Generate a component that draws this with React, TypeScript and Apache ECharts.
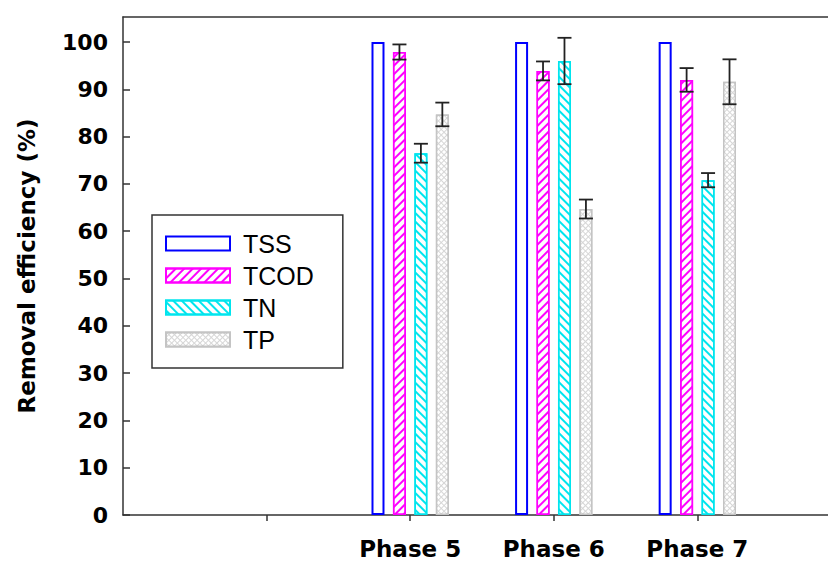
import React, { useEffect, useRef } from "react";
import * as echarts from "echarts";

// ---- data ----
const phaseNames = ["Phase 5", "Phase 6", "Phase 7"];
const phasePositions = [2, 3, 4];
const xTickPositions = [1, 2, 3, 4];
const seriesNames = ["TSS", "TCOD", "TN", "TP"];
const tssValues = [100, 100, 100];
const tcodValues = [97.9, 93.9, 92.0];
const tnValues = [76.5, 96.0, 70.8];
const tpValues = [84.7, 64.7, 91.6];
const tssErr = [0, 0, 0];
const tcodErr = [1.6, 2.0, 2.5];
const tnErr = [2.0, 4.9, 1.5];
const tpErr = [2.5, 2.0, 4.75];
const yMin = 0;
const yMax = 105.3;
const yInterval = 10;

const BAR_W = 13;
const BAR_GAP = 0.65;

const AXIS_FONT = "DejaVu Sans";

export default function App() {
  const ref = useRef<HTMLDivElement>(null);
  useEffect(() => {
    if (!ref.current) return;
    const chart = echarts.init(ref.current, undefined, { renderer: "svg" });
    const valueSets = [tssValues, tcodValues, tnValues, tpValues];
    const errSets = [tssErr, tcodErr, tnErr, tpErr];
    const colors = ["#0000ff", "#ff00ff", "#00e5ee", "#c4c4c4"];
    const fills = ["#ffffff", "#ffffff", "#ffffff", "#d6d6d6"];
    const decals: any[] = [
      null,
      { symbol: "rect", symbolSize: 1, color: "#ff00ff", dashArrayX: [1, 0], dashArrayY: [1.3, 3.5], rotation: -Math.PI / 4 },
      { symbol: "rect", symbolSize: 1, color: "#00e5ee", dashArrayX: [1, 0], dashArrayY: [1.3, 3.5], rotation: Math.PI / 4 },
      { symbol: "rect", symbolSize: 1, color: "#ffffff", dashArrayX: [2.2, 1], dashArrayY: [2.2, 1], rotation: Math.PI / 4 },
    ];
    const barSeries = seriesNames.map((name, k) => ({
      type: "bar",
      name,
      xAxisIndex: 0,
      barWidth: BAR_W,
      barGap: BAR_GAP * 100 + "%",
      data: phasePositions.map((p, i) => [p, valueSets[k][i]]),
      itemStyle: {
        color: fills[k],
        borderColor: colors[k],
        borderWidth: k === 0 ? 2 : 1.5,
        decal: decals[k] || undefined,
      },
    }));
    const errData: number[][] = [];
    seriesNames.forEach((_, k) => {
      if (k === 0) return;
      phasePositions.forEach((p, i) => errData.push([p, valueSets[k][i], errSets[k][i], k]));
    });
    const option: any = {
      animation: false,
      grid: { left: 123, right: 0, top: 17, bottom: 48 },
      legend: {
        orient: "vertical",
        left: 152,
        top: 215,
        data: seriesNames,
        icon: "rect",
        itemWidth: 64,
        itemHeight: 14,
        itemGap: 7,
        padding: [16, 29, 16, 13],
        borderColor: "#333",
        borderWidth: 1.5,
        textStyle: { fontFamily: "Liberation Sans", fontSize: 25, color: "#000", lineHeight: 25, padding: [0, 0, 0, 8] },
      },
      xAxis: [
        {
          type: "value",
          min: 0,
          max: 4.91,
          interval: 1,
          splitLine: { show: false },
          axisLine: { show: true, lineStyle: { color: "#333", width: 1.5 } },
          axisTick: { show: true, customValues: xTickPositions, length: 6, lineStyle: { color: "#333", width: 1.5 } },
          axisLabel: {
            customValues: phasePositions,
            formatter: (v: number) => {
              const i = phasePositions.indexOf(Math.round(v));
              return i >= 0 ? phaseNames[i] : "";
            },
            margin: 22,
            fontFamily: AXIS_FONT,
            fontWeight: "bold",
            fontSize: 23,
            color: "#000",
          },
        },
        {
          type: "value",
          position: "top",
          min: 0,
          max: 4.91,
          splitLine: { show: false },
          axisLine: { show: true, lineStyle: { color: "#333", width: 1.5 } },
          axisTick: { show: false },
          axisLabel: { show: false },
        },
      ],
      yAxis: {
        type: "value",
        min: yMin,
        max: yMax,
        interval: yInterval,
        name: "Removal efficiency (%)",
        nameLocation: "middle",
        nameGap: 85,
        nameTextStyle: { fontFamily: AXIS_FONT, fontWeight: "bold", fontSize: 23, color: "#000" },
        splitLine: { show: false },
        axisLine: { show: true, lineStyle: { color: "#333", width: 1.5 } },
        axisTick: { show: true, inside: true, length: 7, lineStyle: { color: "#333", width: 1.5 } },
        axisLabel: {
          showMaxLabel: false,
          margin: 15,
          fontFamily: AXIS_FONT,
          fontWeight: "bold",
          fontSize: 22,
          color: "#000",
          formatter: (v: number) => (v % 10 === 0 ? String(v) : ""),
        },
      },
      series: [
        ...barSeries,
        {
          type: "custom",
          name: "err",
          xAxisIndex: 0,
          data: errData,
          z: 10,
          renderItem: (params: any, api: any) => {
            const x = api.value(0);
            const y = api.value(1);
            const e = api.value(2);
            const k = api.value(3);
            const step = BAR_W * (1 + BAR_GAP);
            const off = (k - 1.5) * step;
            const top = api.coord([x, y + e]);
            const bot = api.coord([x, y - e]);
            const cx = top[0] + off;
            const hw = 7;
            const style = { stroke: "#222", lineWidth: 1.8 };
            return {
              type: "group",
              children: [
                { type: "line", shape: { x1: cx, y1: top[1], x2: cx, y2: bot[1] }, style },
                { type: "line", shape: { x1: cx - hw, y1: top[1], x2: cx + hw, y2: top[1] }, style },
                { type: "line", shape: { x1: cx - hw, y1: bot[1], x2: cx + hw, y2: bot[1] }, style },
              ],
            };
          },
        },
      ],
    };
    chart.setOption(option);
    return () => chart.dispose();
  }, []);
  return (
    <div style={{ position: "fixed", left: 0, top: 0, width: 828, height: 563, background: "#fff" }}>
      <div ref={ref} style={{ width: 828, height: 563 }} />
    </div>
  );
}
